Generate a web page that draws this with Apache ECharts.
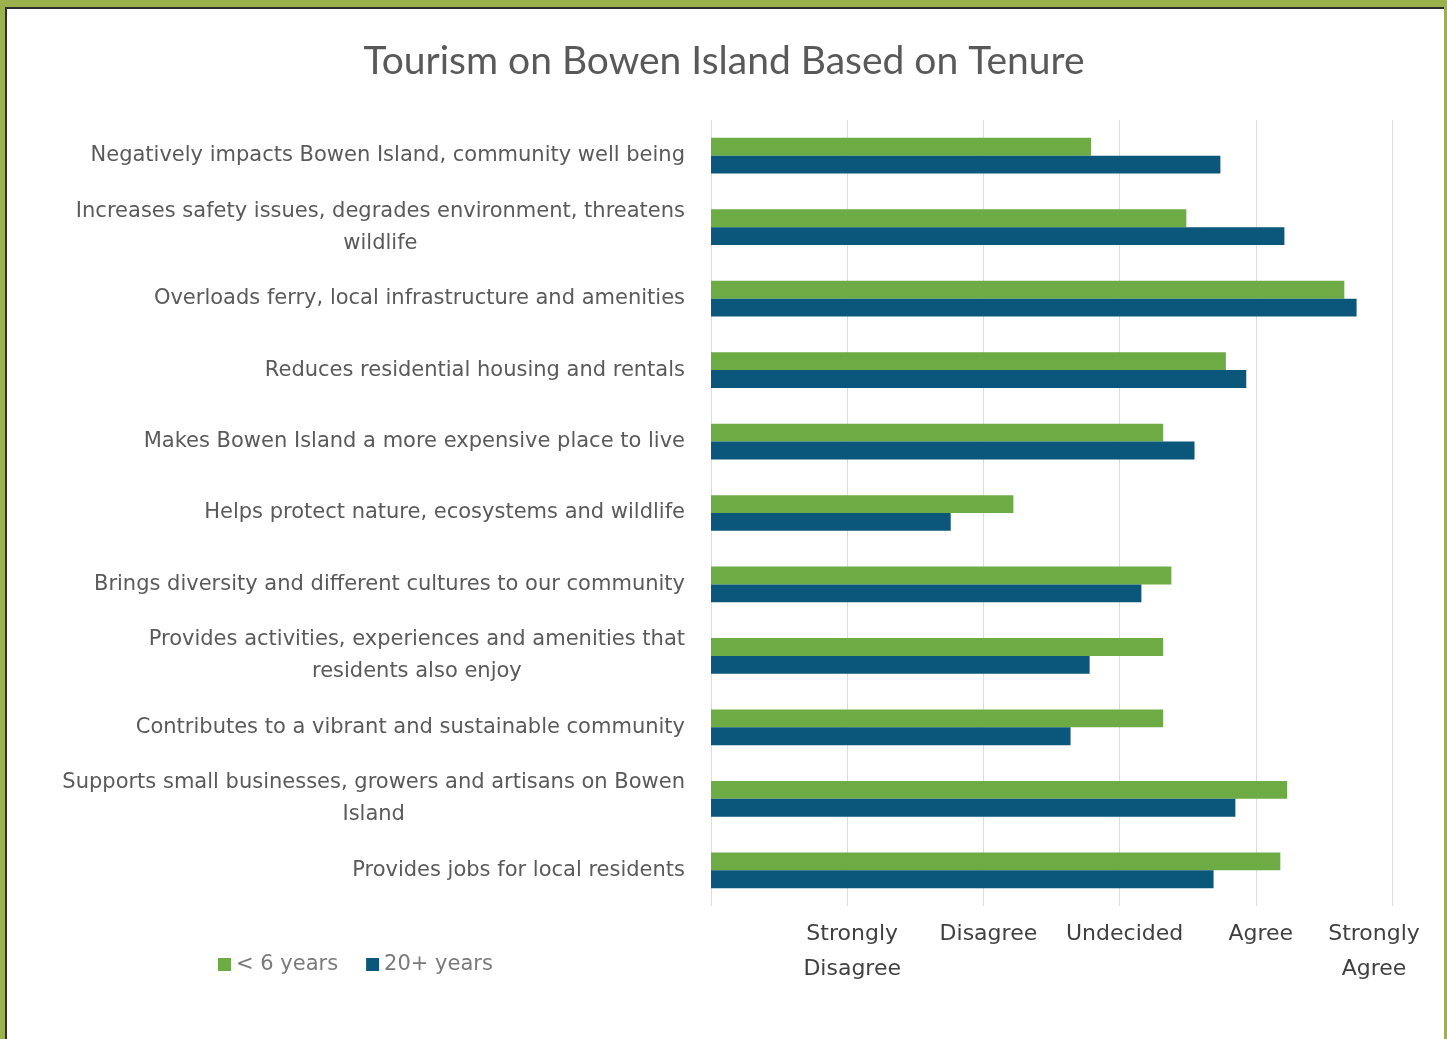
<!DOCTYPE html>
<html>
<head>
<meta charset="utf-8">
<title>Tourism on Bowen Island Based on Tenure</title>
<script src="https://cdn.jsdelivr.net/npm/echarts@6/dist/echarts.min.js"></script>
<style>
  html, body { margin: 0; padding: 0; width: 1447px; height: 1039px; overflow: hidden; }
  #frame { position: absolute; left: 0; top: 0; width: 1447px; height: 1039px; background: #9bb14b; }
  #edge { position: absolute; left: 5px; top: 7px; width: 1439px; height: 1032px;
          border-left: 2px solid #2e2e2e; border-top: 2px solid #2e2e2e; box-sizing: border-box; background: #fff; }
  #chart { position: absolute; left: 7px; top: 9px; width: 1437px; height: 1030px; background: #fff; }
</style>
</head>
<body>
<div id="frame"><div id="edge"></div><div id="chart"></div></div>
<script>
// Survey statements, top to bottom
const statements = [
  'Negatively impacts Bowen Island, community well being',
  'Increases safety issues, degrades environment, threatens\nwildlife',
  'Overloads ferry, local infrastructure and amenities',
  'Reduces residential housing and rentals',
  'Makes Bowen Island a more expensive place to live',
  'Helps protect nature, ecosystems and wildlife',
  'Brings diversity and different cultures to our community',
  'Provides activities, experiences and amenities that\nresidents also enjoy',
  'Contributes to a vibrant and sustainable community',
  'Supports small businesses, growers and artisans on Bowen\nIsland',
  'Provides jobs for local residents'
];

// Mean agreement score (1 = Strongly Disagree ... 5 = Strongly Agree)
const under6Years = [2.79, 3.49, 4.65, 3.78, 3.32, 2.22, 3.38, 3.32, 3.32, 4.23, 4.18];
const over20Years = [3.74, 4.21, 4.74, 3.93, 3.55, 1.76, 3.16, 2.78, 2.64, 3.85, 3.69];

// Likert scale tick labels (index = score)
const scaleLabels = ['', 'Strongly\nDisagree', 'Disagree', 'Undecided', 'Agree', 'Strongly\nAgree'];

const seriesNames = ['< 6 years', '20+ years'];

const chart = echarts.init(document.getElementById('chart'), null, { renderer: 'canvas' });

const BODY_FONT = '"DejaVu Sans", "Open Sans", sans-serif';
const TITLE_FONT = 'Lato, "Open Sans", sans-serif';

chart.setOption({
  animation: false,
  backgroundColor: '#ffffff',
  title: {
    text: 'Tourism on Bowen Island Based on Tenure',
    left: 712,
    top: 28,
    textAlign: 'center',
    textStyle: { fontFamily: TITLE_FONT, fontSize: 39, fontWeight: 'normal', color: '#595959' }
  },
  legend: {
    left: 206,
    top: 940,
    itemWidth: 13,
    itemHeight: 13,
    itemGap: 28,
    icon: 'rect',
    textStyle: { fontFamily: BODY_FONT, fontSize: 21, color: '#7a7a7a' },
    data: seriesNames
  },
  grid: { left: 704, right: 52, top: 111, bottom: 133, containLabel: false, outerBoundsMode: 'none' },
  xAxis: {
    type: 'value',
    min: 0,
    max: 5,
    interval: 1,
    axisLine: { show: false },
    axisTick: { show: false },
    splitLine: { show: true, lineStyle: { color: '#dcdcdc', width: 1 } },
    axisLabel: {
      margin: 11,
      fontFamily: BODY_FONT,
      fontSize: 22,
      color: '#404040',
      lineHeight: 35,
      formatter: function (v) {
        const t = scaleLabels[Math.round(v)] || '';
        if (!t) return '';
        const style = v === 5 ? 'last' : 'mid';
        return t.split('\n').map(function (line) { return '{' + style + '|' + line + '}'; }).join('\n');
      },
      rich: {
        mid: { fontFamily: BODY_FONT, fontSize: 22, color: '#404040', lineHeight: 35, padding: [0, 0, 0, 10], align: 'center' },
        last: { fontFamily: BODY_FONT, fontSize: 22, color: '#404040', lineHeight: 35, padding: [0, 36, 0, 0], align: 'center' }
      }
    }
  },
  yAxis: {
    type: 'category',
    inverse: true,
    data: statements,
    axisLine: { show: false },
    axisTick: { show: false },
    axisLabel: {
      margin: 26,
      fontFamily: BODY_FONT,
      fontSize: 21,
      color: '#5a5a5a',
      lineHeight: 32,
      formatter: function (t) {
        return t.split('\n').map(function (line) { return '{c|' + line + '}'; }).join('\n');
      },
      rich: {
        c: { fontFamily: BODY_FONT, fontSize: 21, color: '#5a5a5a', lineHeight: 32, align: 'center' }
      }
    }
  },
  series: [
    {
      name: seriesNames[0],
      type: 'bar',
      data: under6Years,
      barGap: '0%',
      barCategoryGap: '50%',
      itemStyle: { color: '#6dab45' }
    },
    {
      name: seriesNames[1],
      type: 'bar',
      data: over20Years,
      barGap: '0%',
      barCategoryGap: '50%',
      itemStyle: { color: '#0b577b' }
    }
  ]
});
</script>
</body>
</html>
